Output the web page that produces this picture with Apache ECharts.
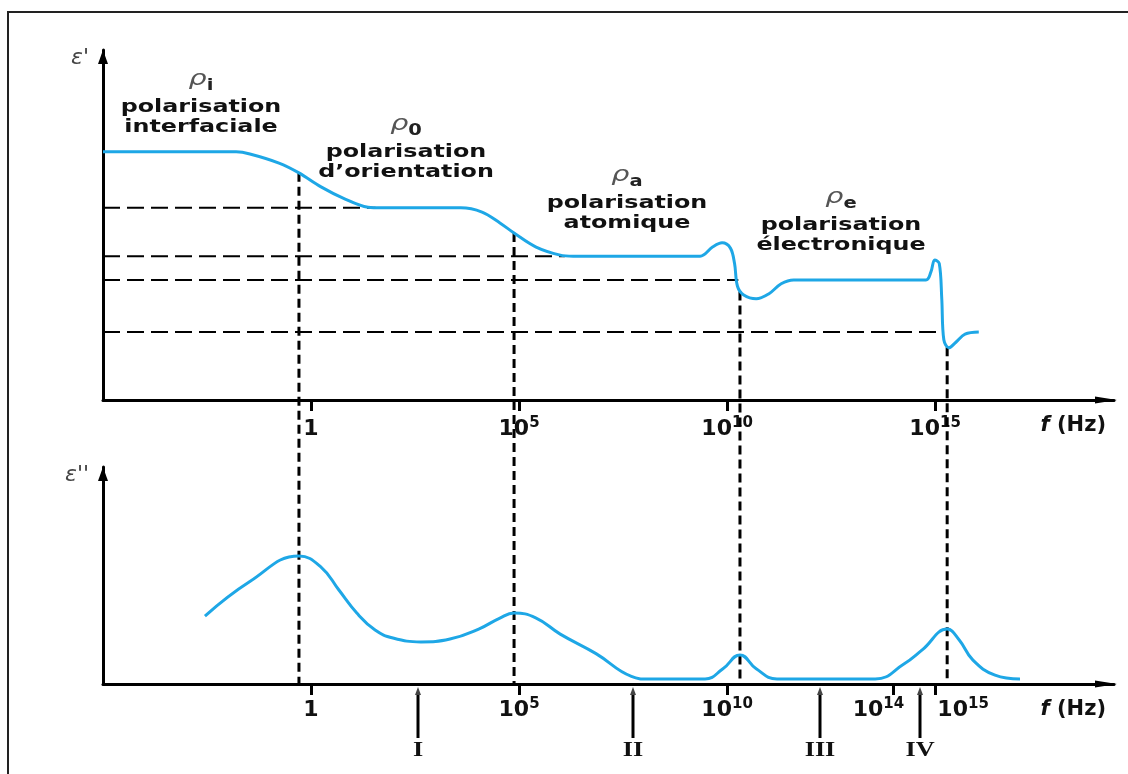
<!DOCTYPE html>
<html>
<head>
<meta charset="utf-8">
<script src="https://cdn.jsdelivr.net/npm/echarts@6/dist/echarts.min.js"></script>
<style>
  html, body { margin: 0; padding: 0; background: #fff; }
  #main { width: 1128px; height: 774px; }
</style>
</head>
<body>
<div id="main"></div>
<script>
// axe des x : log10(f)
var xMin = -5, xMax = 19.3;

// epsilon' (partie reelle)
var realLogF = [-5, -1.8, -1.47, -0.77, -0.29, 0.24, 0.77, 1.37, 1.7, 3.6, 4.11, 4.54, 4.88, 5.41, 5.99, 6.3,
  9.35, 9.65, 9.88, 10.08, 10.18, 10.25, 10.4, 10.7, 11.0, 11.3, 11.6,
  14.78, 14.9, 14.99, 15.1, 15.16, 15.21, 15.33, 15.5, 15.72, 16.05];
var realEps = [7.09, 7.09, 7.03, 6.77, 6.49, 6.09, 5.77, 5.51, 5.49, 5.49, 5.37, 5.06, 4.77, 4.37, 4.14, 4.11,
  4.11, 4.37, 4.49, 4.34, 3.9, 3.25, 3.0, 2.89, 3.03, 3.32, 3.43,
  3.43, 3.66, 4.0, 3.9, 2.9, 1.72, 1.49, 1.65, 1.88, 1.94];

// epsilon'' (pertes)
var lossLogF = [-2.55, -1.47, -0.29, 0.24, 0.67, 1.1, 1.54, 1.97, 2.64, 3.34, 4.03, 4.54, 4.88, 5.4, 5.99, 6.85,
  7.7, 8.1, 9.47, 9.9, 10.31, 10.7, 11.2, 13.56, 14.25, 14.69, 15.29, 15.58, 15.91, 16.44, 17.04];
var lossEps = [3.13, 4.72, 5.9, 5.39, 4.33, 3.27, 2.49, 2.12, 1.94, 2.07, 2.53, 3.04, 3.27, 3.05, 2.3, 1.4,
  0.35, 0.23, 0.23, 0.7, 1.34, 0.7, 0.23, 0.23, 0.92, 1.57, 2.53, 2.03, 1.1, 0.41, 0.23];

// paliers (tirets horizontaux)
var levelEps = [5.49, 4.11, 3.43, 1.94];
var levelEnd = [1.55, 6.1, 10.27, 15.12];

// frequences de relaxation / resonance (tirets verticaux)
var peakLogF = [-0.29, 4.88, 10.31, 15.29];
var peakTopEps = [6.49, 4.77, 3.1, 1.51];

// graduations
var realTicks = [0, 5, 10, 15];
var lossTicks = [0, 5, 10, 14, 15];
var lossLabels = [0, 5, 10, 15];
var lossExtraLabels = [14];

// domaines I..IV
var zoneLogF = [2.57, 7.74, 12.24, 14.64];
var zoneNames = ['I', 'II', 'III', 'IV'];

// textes des mecanismes
var mechSub = ['i', '0', 'a', 'e'];
var mechLine2 = ['interfaciale', 'd\u2019orientation', 'atomique', '\u00e9lectronique'];

var BLUE = '#1ea7e6';
var FONT = '"DejaVu Sans", sans-serif';

function zip(a, b) {
  return a.map(function (v, i) { return [v, b[i]]; });
}

function tickRich(supPad) {
  return {
    p: { width: 56 },
    b: { fontSize: 22, fontWeight: 'bold', fontFamily: FONT, color: '#111', verticalAlign: 'bottom', lineHeight: 24 },
    sup: { fontSize: 15, fontWeight: 'bold', fontFamily: FONT, color: '#111', verticalAlign: 'top', padding: supPad || 0 }
  };
}

function tickFmt(v) {
  if (v === 0) return '{b|1}';
  return '{b|10}{sup|' + v + '}';
}

function lossFmt(v) {
  // le label 10^15 du bas est decale a droite de sa graduation
  if (v === 15) return '{p|}{b|10}{sup|15}';
  return tickFmt(v);
}

function makeX(gridIndex, ticks, labels, margin, fmt, rich, withLine) {
  return {
    type: 'value', gridIndex: gridIndex, min: xMin, max: xMax,
    position: 'bottom', offset: 0,
    axisLine: {
      show: withLine, onZero: false,
      lineStyle: { color: '#000', width: 3 },
      symbol: ['none', 'triangle'], symbolSize: [7, 22], symbolOffset: [0, -8]
    },
    axisTick: { show: withLine, customValues: ticks, length: 11, lineStyle: { color: '#000', width: 3 } },
    axisLabel: {
      show: true, customValues: labels, margin: margin, hideOverlap: false,
      formatter: fmt, rich: rich
    },
    splitLine: { show: false },
    name: withLine ? '{i|f} (Hz)' : '', nameLocation: 'end', nameGap: -8,
    nameTextStyle: {
      align: 'right', verticalAlign: 'top', padding: [15, 0, 0, 0],
      fontSize: 21, fontWeight: 'bold', fontFamily: FONT, color: '#111',
      rich: {
        i: { fontSize: 21, fontStyle: 'italic', fontWeight: 'bold', fontFamily: FONT, color: '#111' }
      }
    }
  };
}

function makeY(gridIndex, name) {
  return {
    type: 'value', gridIndex: gridIndex, min: 0, max: 10,
    axisLine: {
      show: true, onZero: false,
      lineStyle: { color: '#000', width: 3 },
      symbol: ['none', 'triangle'], symbolSize: [10, 14], symbolOffset: [0, -7]
    },
    axisTick: { show: false }, axisLabel: { show: false }, splitLine: { show: false },
    name: name, nameLocation: 'end', nameGap: -8,
    nameTextStyle: {
      align: 'right', verticalAlign: 'middle', padding: [0, 14, 0, 0],
      fontSize: 22, fontStyle: 'italic', fontFamily: FONT, color: '#444'
    }
  };
}

var series = [
  {
    type: 'line', xAxisIndex: 0, yAxisIndex: 0, data: zip(realLogF, realEps),
    smooth: 0.35, showSymbol: false, symbol: 'none',
    lineStyle: { color: BLUE, width: 3 }, z: 4
  },
  {
    type: 'line', xAxisIndex: 1, yAxisIndex: 1, data: zip(lossLogF, lossEps),
    smooth: 0.45, showSymbol: false, symbol: 'none',
    lineStyle: { color: BLUE, width: 3 }, z: 4
  }
];
levelEps.forEach(function (v, i) {
  series.push({
    type: 'line', xAxisIndex: 0, yAxisIndex: 0,
    data: [[xMin, v], [levelEnd[i], v]],
    showSymbol: false, symbol: 'none', silent: true,
    lineStyle: { color: '#000', width: 2, type: [17, 7] }, z: 2
  });
});

var chart = echarts.init(document.getElementById('main'), null, { renderer: 'canvas' });
chart.setOption({
  animation: false,
  backgroundColor: '#fff',
  grid: [
    { left: 103, right: 14, top: 50, height: 350 },
    { left: 103, right: 14, top: 467, height: 217 }
  ],
  xAxis: [
    makeX(0, realTicks, realTicks, 16, tickFmt, tickRich(), true),
    makeX(1, lossTicks, lossLabels, 13, lossFmt, tickRich(), true),
    makeX(1, [], lossExtraLabels, 13, tickFmt, tickRich([0, 30, 0, 0]), false)
  ],
  yAxis: [makeY(0, "\u03b5'"), makeY(1, "\u03b5''")],
  series: series
});

// elements graphiques : cadre, tirets verticaux, fleches I..IV, textes
var g = [];
g.push({
  type: 'rect', shape: { x: 8, y: 12, width: 1140, height: 790 },
  style: { fill: null, stroke: '#222', lineWidth: 2 }, silent: true, z: 0
});

peakLogF.forEach(function (x, i) {
  var p1 = chart.convertToPixel({ gridIndex: 0 }, [x, peakTopEps[i]]);
  var p2 = chart.convertToPixel({ gridIndex: 1 }, [x, 0]);
  g.push({
    type: 'line', shape: { x1: p1[0], y1: p1[1], x2: p2[0], y2: p2[1] },
    style: { stroke: '#000', lineWidth: 3, lineDash: [9, 5] }, silent: true, z: 1
  });
});

zoneLogF.forEach(function (x, i) {
  var p = chart.convertToPixel({ gridIndex: 1 }, [x, 0]);
  var px = Math.round(p[0]), y0 = p[1];
  g.push({
    type: 'line', shape: { x1: px, y1: y0 + 8, x2: px, y2: y0 + 54 },
    style: { stroke: '#000', lineWidth: 3 }, silent: true
  });
  g.push({
    type: 'polygon', shape: { points: [[px - 3, y0 + 11], [px, y0 + 3], [px + 3, y0 + 11]] },
    style: { fill: '#444' }, silent: true
  });
  g.push({
    type: 'text', x: px, y: y0 + 67, scaleX: 1.25,
    style: {
      text: zoneNames[i], font: 'bold 21px "Liberation Serif", serif', fill: '#111',
      align: 'center', verticalAlign: 'middle', textAlign: 'center', textVerticalAlign: 'middle'
    }, silent: true
  });
});

var mechX = [201, 406, 627, 841];
var mechY = [81, 126, 177, 199];
mechSub.forEach(function (s, i) {
  g.push({
    type: 'text', x: mechX[i], y: mechY[i], scaleX: 1.3,
    style: {
      text: '{r|\u03c1}{s|' + s + '}',
      align: 'center', verticalAlign: 'middle', textAlign: 'center', textVerticalAlign: 'middle',
      rich: {
        r: { fontSize: 22, fontStyle: 'italic', fontFamily: FONT, fill: '#555', color: '#555', verticalAlign: 'top', lineHeight: 26 },
        s: { fontSize: 15, fontWeight: 'bold', fontFamily: FONT, fill: '#222', color: '#222', verticalAlign: 'bottom' }
      }
    }, silent: true
  });
  [['polarisation', 27], [mechLine2[i], 47]].forEach(function (t) {
    g.push({
      type: 'text', x: mechX[i], y: mechY[i] + t[1], scaleX: 1.4,
      style: {
        text: t[0], font: 'bold 17px ' + FONT, fill: '#111',
        align: 'center', verticalAlign: 'middle', textAlign: 'center', textVerticalAlign: 'middle'
      }, silent: true
    });
  });
});

chart.setOption({ graphic: g });
</script>
</body>
</html>
